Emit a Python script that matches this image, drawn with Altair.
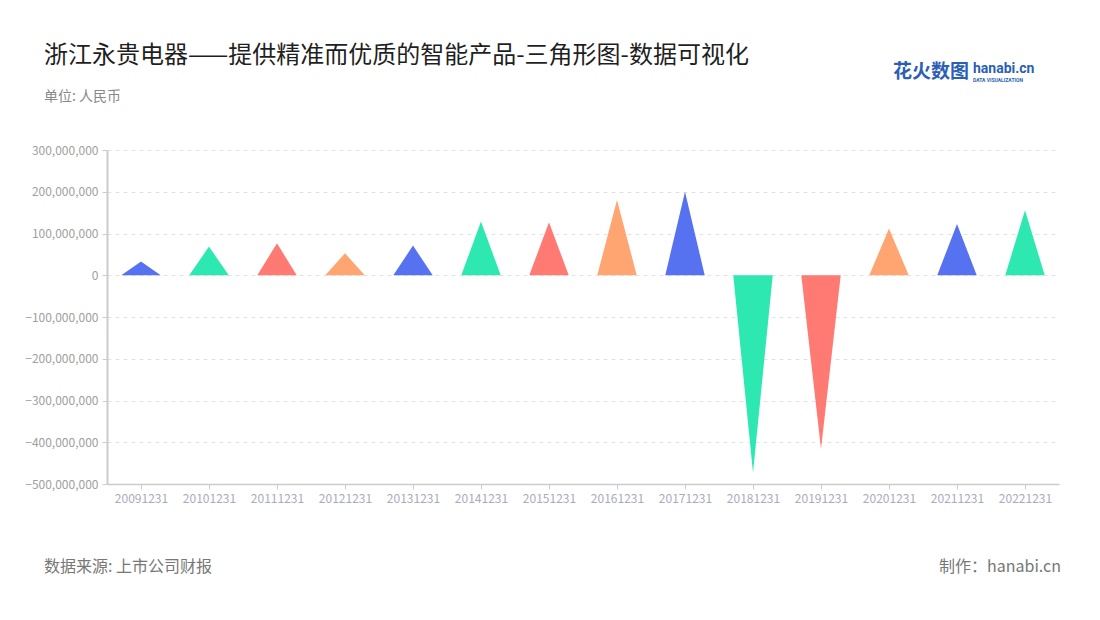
import json
import altair as alt
import pandas as pd

categories = ["20091231", "20101231", "20111231", "20121231", "20131231", "20141231", "20151231",
              "20161231", "20171231", "20181231", "20191231", "20201231", "20211231", "20221231"]
values = [32.7e6, 68.6e6, 76.6e6, 52.7e6, 71.0e6, 128.5e6, 126.9e6,
          180.3e6, 200.3e6, -473e6, -416e6, 111.7e6, 122.9e6, 155.6e6]
palette = ["#5772F0", "#2EE8B1", "#FF7A72", "#FFA571"]
y_ticks = [-500e6, -400e6, -300e6, -200e6, -100e6, 0, 100e6, 200e6, 300e6]

HALF = 0.29  # half of triangle base, in band units
rows = []
for i, (c, v) in enumerate(zip(categories, values)):
    for off in (-HALF, 0.0, HALF):
        rows.append({"px": i + off, "val": v if off == 0 else 0.0, "cat": c})
df = pd.DataFrame(rows)

FONT = "Noto Sans CJK SC"
label_expr = json.dumps(categories) + "[datum.value]"

tri = alt.Chart(df).mark_area(opacity=1).encode(
    x=alt.X("px:Q",
            scale=alt.Scale(domain=[-0.5, len(categories) - 0.5], nice=False, zero=False),
            axis=alt.Axis(values=list(range(len(categories))), labelExpr=label_expr, grid=False,
                          title=None, labelFontSize=12, labelColor="#A9ABBA", labelFont=FONT,
                          domainColor="#CCCCCC", domainWidth=1.5, tickColor="#CCCCCC",
                          tickSize=5, labelPadding=4)),
    y=alt.Y("val:Q", stack=None,
            scale=alt.Scale(domain=[-500e6, 300e6], nice=False),
            axis=alt.Axis(values=y_ticks, format=",d", title=None, labelFontSize=12,
                          labelColor="#A0A0A0", labelFont=FONT, domainColor="#CCCCCC",
                          domainWidth=2, tickColor="#CCCCCC", tickSize=5, labelPadding=4,
                          gridColor="#E3E3E3", gridDash=[4, 4], gridWidth=1)),
    color=alt.Color("cat:N", scale=alt.Scale(domain=categories,
                                             range=[palette[i % 4] for i in range(len(categories))]),
                    legend=None),
)

txt = pd.DataFrame({"a": [0]})
def label(text, x, y, size, color, align="left", weight="normal", font=FONT):
    return alt.Chart(txt).mark_text(text=text, align=align, baseline="middle", fontSize=size,
                                    color=color, fontWeight=weight, font=font).encode(
        x=alt.value(x), y=alt.value(y))

title = label("浙江永贵电器——提供精准而优质的智能产品-三角形图-数据可视化", -63, -94, 24, "#1F1F1F")
subtitle = label("单位: 人民币", -63, -53, 14, "#888888")
source = label("数据来源: 上市公司财报", -63, 417, 16, "#777777")
maker = label("制作：hanabi.cn", 954, 417, 16, "#777777", align="right")
logo1 = label("花火数图", 786, -78, 19, "#2B5FB5", weight="bold")
logo2 = label("hanabi.cn", 866, -81, 14, "#2B5FB5", weight="bold", font="Roboto")
logo3 = label("DATA VISUALIZATION", 866, -70, 5, "#2B5FB5", weight="bold", font="Roboto")

chart = alt.layer(tri, title, subtitle, source, maker, logo1, logo2, logo3).properties(
    width=952, height=334,
    autosize=alt.AutoSizeParams(type="none"),
    padding={"left": 99, "top": 142, "right": 30, "bottom": 120},
).configure(background="white", view=alt.ViewConfig(stroke="transparent", strokeWidth=0))

chart.save("out.html", embed_options={"renderer": "svg", "actions": False})
